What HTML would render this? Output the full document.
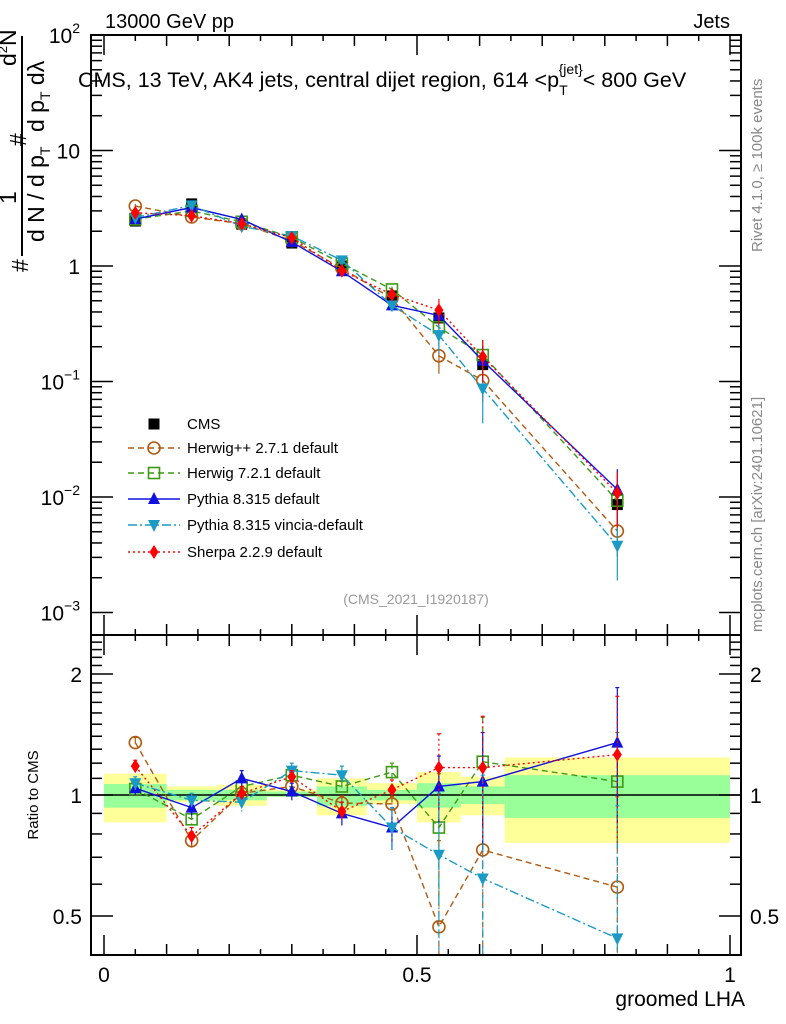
<!DOCTYPE html>
<html><head><meta charset="utf-8"><style>
html,body{margin:0;padding:0;background:#fff;width:786px;height:1024px;overflow:hidden;}
svg{display:block;font-family:"Liberation Sans",sans-serif;}
</style></head><body>
<svg id="c" width="786" height="1024" viewBox="0 0 786 1024">
<defs>
<clipPath id="clipMain"><rect x="91" y="35" width="650" height="600"/></clipPath>
<clipPath id="clipRatio"><rect x="91" y="635" width="650" height="320"/></clipPath>
</defs>
<g id="bands" clip-path="url(#clipRatio)"></g>
<line x1="91" y1="795" x2="741" y2="795" stroke="#000" stroke-width="1.5"/>
<g id="series-main" clip-path="url(#clipMain)"></g>
<g id="series-ratio" clip-path="url(#clipRatio)"></g>
<rect x="91" y="35" width="650" height="600" fill="none" stroke="#000" stroke-width="2"/>
<rect x="91" y="635" width="650" height="320" fill="none" stroke="#000" stroke-width="2"/>
<g id="ticks"></g>
<text x="105" y="28" font-size="20">13000 GeV pp</text>
<text x="730" y="28" font-size="20" text-anchor="end">Jets</text>
<text x="78" y="87" font-size="21.5">CMS, 13 TeV, AK4 jets, central dijet region, 614 &lt;p<tspan font-size="14" dy="8">T</tspan><tspan font-size="14" dy="-21" dx="-9">{jet}</tspan><tspan dy="13">&lt; 800 GeV</tspan></text>
<text x="416" y="604" font-size="14" fill="#999" text-anchor="middle">(CMS_2021_I1920187)</text>
<text transform="translate(762,252) rotate(-90)" font-size="15" fill="#888">Rivet 4.1.0, ≥ 100k events</text>
<text transform="translate(762,632) rotate(-90)" font-size="15" fill="#888">mcplots.cern.ch [arXiv:2401.10621]</text>
<text transform="translate(38,795) rotate(-90)" font-size="15" text-anchor="middle">Ratio to CMS</text>
<text x="745" y="1006" font-size="21" text-anchor="end">groomed LHA</text>
<g font-size="23">
<line x1="22" y1="36" x2="22" y2="256" stroke="#000" stroke-width="2"/>
<text transform="translate(28,272) rotate(-90)">#</text>
<text transform="translate(16,204) rotate(-90)">1</text>
<text transform="translate(44,242) rotate(-90)">d N / d p<tspan font-size="14" dy="6">T</tspan></text>
<text transform="translate(26,146) rotate(-90)">#</text>
<text transform="translate(16,66) rotate(-90)">d<tspan font-size="13" dy="-9">2</tspan><tspan dy="9">N</tspan></text>
<text transform="translate(44,132) rotate(-90)">d p<tspan font-size="14" dy="6">T</tspan><tspan dy="-6"> d</tspan>λ</text>
</g>
<g id="legend"></g>
</svg>
<script>
// ---- data ----
const binEdges = [0,0.1,0.18,0.26,0.34,0.42,0.5,0.57,0.64,1.0];
const xCenters = [0.05,0.14,0.22,0.30,0.38,0.46,0.535,0.605,0.82];
const cmsValues = [2.45,3.45,2.3,1.58,1.0,0.55,0.355,0.14,0.0086];
const cmsErrs = [0.1,0.12,0.08,0.06,0.04,0.03,0.03,0.02,0.002];
const bandYellowUp = [1.13,1.05,1.06,1.03,1.10,1.07,1.14,1.11,1.24];
const bandYellowDn = [0.855,0.96,0.94,0.99,0.89,0.95,0.855,0.89,0.76];
const bandGreenUp = [1.065,1.03,1.03,1.02,1.05,1.03,1.07,1.05,1.12];
const bandGreenDn = [0.93,0.97,0.97,0.99,0.94,0.97,0.93,0.95,0.877];
const herwigppRatio = [1.35,0.77,1.01,1.05,0.955,0.95,0.47,0.73,0.59];
const herwig7Ratio = [1.035,0.87,1.05,1.12,1.05,1.14,0.83,1.21,1.08];
const pythiaRatio = [1.04,0.93,1.10,1.02,0.90,0.83,1.05,1.08,1.35];
const vinciaRatio = [1.07,0.97,0.96,1.15,1.12,0.83,0.71,0.62,0.44];
const sherpaRatio = [1.18,0.79,1.01,1.11,0.91,1.03,1.17,1.17,1.26];
const herwigppErr = [0.04,0.04,0.03,0.03,0.04,0.04,0.3,0.35,0.4];
const herwig7Err = [0.03,0.03,0.03,0.03,0.03,0.06,0.3,0.35,0.35];
const pythiaErr = [0.04,0.04,0.05,0.05,0.06,0.1,0.2,0.35,0.5];
const vinciaErr = [0.04,0.04,0.05,0.05,0.06,0.1,0.3,0.5,0.5];
const sherpaErr = [0.04,0.04,0.04,0.04,0.05,0.06,0.25,0.4,0.5];
const xTickLabels = ["0","0.5","1"];
const xTickValues = [0,0.5,1];
const ratioTickValues = [0.5,1,2];
const ratioTickLabels = ["0.5","1","2"];
const legendLabels = ["CMS","Herwig++ 2.7.1 default","Herwig 7.2.1 default","Pythia 8.315 default","Pythia 8.315 vincia-default","Sherpa 2.2.9 default"];

// ---- axes ----
const X = v => 104 + 626*v;
const Y = v => 266 - 115.5*Math.log10(v);
const R = r => 795 - 402*Math.log10(r);
const NS = "http://www.w3.org/2000/svg";
function mk(tag, attrs, parent){const e=document.createElementNS(NS,tag);for(const k in attrs)e.setAttribute(k,attrs[k]);parent.appendChild(e);return e;}

const gb = document.getElementById('bands');
for(let i=0;i<xCenters.length;i++){
  const x0=X(binEdges[i]), x1=X(binEdges[i+1]);
  const y = mk('rect',{x:x0,y:R(bandYellowUp[i]),width:x1-x0,height:R(bandYellowDn[i])-R(bandYellowUp[i]),fill:'#ffff99'},gb);
  
  
  const g = mk('rect',{x:x0,y:R(bandGreenUp[i]),width:x1-x0,height:R(bandGreenDn[i])-R(bandGreenUp[i]),fill:'#99ff99'},gb);
  
  
}

const series = [
 {name:'herwigpp',ratio:herwigppRatio,err:herwigppErr,color:'#b05a10',dash:'6,4',marker:'circle'},
 {name:'herwig7',ratio:herwig7Ratio,err:herwig7Err,color:'#3c9a14',dash:'6,4',marker:'osquare'},
 {name:'pythia',ratio:pythiaRatio,err:pythiaErr,color:'#1010e0',dash:'',marker:'tri'},
 {name:'vincia',ratio:vinciaRatio,err:vinciaErr,color:'#1a9ac4',dash:'9,3,2,3',marker:'dtri'},
 {name:'sherpa',ratio:sherpaRatio,err:sherpaErr,color:'#ff0000',dash:'2,3',marker:'diamond'}
];
function marker(type,x,y,color,parent){
  let e;
  if(type==='circle') e=mk('circle',{cx:x,cy:y,r:6,fill:'none',stroke:color,'stroke-width':1.6},parent);
  else if(type==='osquare') e=mk('rect',{x:x-5.5,y:y-5.5,width:11,height:11,fill:'none',stroke:color,'stroke-width':1.6},parent);
  else if(type==='square') e=mk('rect',{x:x-5.5,y:y-5.5,width:11,height:11,fill:color},parent);
  else if(type==='tri') e=mk('polygon',{points:`${x},${y-7} ${x-6},${y+5} ${x+6},${y+5}`,fill:color},parent);
  else if(type==='dtri') e=mk('polygon',{points:`${x},${y+7} ${x-6},${y-5} ${x+6},${y-5}`,fill:color},parent);
  else e=mk('polygon',{points:`${x},${y-7} ${x-4.5},${y} ${x},${y+7} ${x+4.5},${y}`,fill:color},parent);
  return e;
}
const gm=document.getElementById('series-main'), gr=document.getElementById('series-ratio');
for(let i=0;i<xCenters.length;i++){
  const x=X(xCenters[i]);
  mk('line',{x1:x,x2:x,y1:Y(cmsValues[i]+cmsErrs[i]),y2:Y(Math.max(cmsValues[i]-cmsErrs[i],1e-4)),stroke:'#000','stroke-width':1.2},gm);
  const m=marker('square',x,Y(cmsValues[i]),'#000',gm);
  
  
}
series.forEach(s=>{
  const ptsM=[],ptsR=[];
  for(let i=0;i<xCenters.length;i++){
    const v=cmsValues[i]*s.ratio[i];
    ptsM.push(X(xCenters[i])+','+Y(v));
    ptsR.push(X(xCenters[i])+','+R(s.ratio[i]));
  }
  const lm=mk('polyline',{points:ptsM.join(' '),fill:'none',stroke:s.color,'stroke-width':1.4,'stroke-dasharray':s.dash},gm);
  
  
  const lr=mk('polyline',{points:ptsR.join(' '),fill:'none',stroke:s.color,'stroke-width':1.4,'stroke-dasharray':s.dash},gr);
  
  
  for(let i=0;i<xCenters.length;i++){
    const x=X(xCenters[i]), r=s.ratio[i], e=s.err[i], v=cmsValues[i]*r;
    mk('line',{x1:x,x2:x,y1:R(r+e),y2:R(Math.max(r-e,0.2)),stroke:s.color,'stroke-width':1.2,'stroke-dasharray':s.dash},gr);
    mk('line',{x1:x-2,x2:x+2,y1:R(r+e),y2:R(r+e),stroke:s.color,'stroke-width':1.2},gr);
    mk('line',{x1:x,x2:x,y1:Y(v*(1+e)),y2:Y(v*Math.max(1-e,0.1)),stroke:s.color,'stroke-width':1.2},gm);
    const mm=marker(s.marker,x,Y(v),s.color,gm);
    
    
    const mr=marker(s.marker,x,R(r),s.color,gr);
    
    
  }
});

const gt=document.getElementById('ticks');
function tk(x1,y1,x2,y2){mk('line',{x1,y1,x2,y2,stroke:'#000','stroke-width':1.5},gt);}
for(let k=0;k<=20;k++){
  const v=k/20, x=X(v);
  const len = (k%10===0)?20:(k%2===0?11:6);
  tk(x,955,x,955-len); tk(x,635,x,635+len); tk(x,635,x,635-len); tk(x,35,x,35+len);
}
xTickValues.forEach((v,i)=>{
  const t=mk('text',{x:X(v),y:982,'font-size':21,'text-anchor':'middle'},gt);
  t.textContent=xTickLabels[i];
  
  
});
for(let d=-3;d<=1;d++){
  for(let m=1;m<=9;m++){
    const v=m*Math.pow(10,d), y=Y(v);
    const len=m===1?22:11;
    tk(91,y,91+len,y); tk(741,y,741-len,y);
  }
}
tk(91,Y(100),113,Y(100)); tk(741,Y(100),719,Y(100));
const yLab=[[100,'10','2'],[10,'10',''],[1,'1',''],[0.1,'10','−1'],[0.01,'10','−2'],[0.001,'10','−3']];
yLab.forEach(l=>{
  const t=mk('text',{x:80,y:Y(l[0])+8,'font-size':21,'text-anchor':'end'},gt);
  t.textContent=l[1];
  if(l[2]){const s=mk('tspan',{'font-size':14,dy:-10},t);s.textContent=l[2];}
  
  
});
for(let r=0.4;r<=2.51;r+=0.1){
  const y=R(r); if(y<636||y>954) continue;
  const major=ratioTickValues.some(v=>Math.abs(v-r)<1e-6);
  const len=major?22:11;
  tk(91,y,91+len,y); tk(741,y,741-len,y);
}
ratioTickValues.forEach((v,i)=>{
  const t=mk('text',{x:82,y:R(v)+8,'font-size':21,'text-anchor':'end'},gt);
  t.textContent=ratioTickLabels[i];
  
  
  const t2=mk('text',{x:750,y:R(v)+8,'font-size':21},gt);
  t2.textContent=ratioTickLabels[i];
  
  
});

const gl=document.getElementById('legend');
const legY=[424,448,473,499,525,552];
legendLabels.forEach((lab,i)=>{
  const y=legY[i];
  const g=mk('g',{},gl);
  
  
  if(i===0){ marker('square',154,y,'#000',g); }
  else{
    const s=series[i-1];
    mk('line',{x1:128,x2:180,y1:y,y2:y,stroke:s.color,'stroke-width':1.4,'stroke-dasharray':s.dash},g);
    marker(s.marker,154,y,s.color,g);
  }
  const t=mk('text',{x:187,y:y+5,'font-size':15},g);
  t.textContent=lab;
});
</script>
</body></html>
